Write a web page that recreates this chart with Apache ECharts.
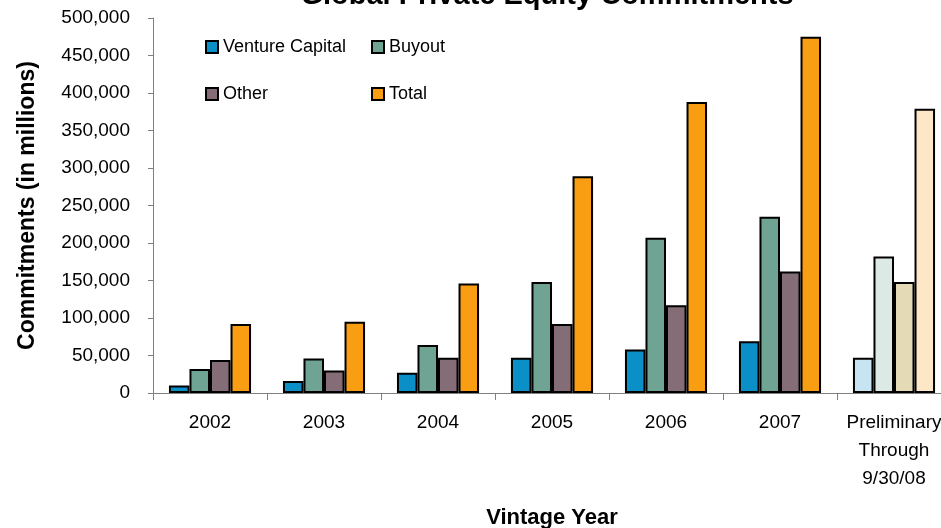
<!DOCTYPE html>
<html>
<head>
<meta charset="utf-8">
<script src="https://cdn.jsdelivr.net/npm/echarts@6/dist/echarts.min.js"></script>
<style>html,body{margin:0;padding:0;background:#fff;overflow:hidden;}#c{width:941px;height:528px;}</style>
</head>
<body>
<div id="c"></div>
<script>
const categories = ['2002', '2003', '2004', '2005', '2006', '2007', 'Preliminary\nThrough\n9/30/08'];
const ventureCapital = [10000, 16000, 27000, 47000, 58000, 69000, 47000];
const buyout = [32000, 46000, 64000, 148000, 207000, 235000, 182000];
const other = [44000, 30000, 47000, 92000, 117000, 162000, 148000];
const total = [92000, 95000, 146000, 289000, 388000, 475000, 379000];
const yTicks = [0, 50000, 100000, 150000, 200000, 250000, 300000, 350000, 400000, 450000, 500000];

const FONT = '"Liberation Sans", Arial, sans-serif';
const colors = ['#0a8fc6', '#6fa394', '#846d77', '#f99e12'];
const prelimColors = ['#c6e4f2', '#dce9e5', '#e4dab5', '#fee7c6'];

function mk(name, data, i) {
  return {
    name: name,
    type: 'bar',
    barGap: '0%',
    barCategoryGap: '28%',
    itemStyle: { color: colors[i], borderColor: '#000', borderWidth: 2 },
    data: data.map((v, k) => k === data.length - 1 ? { value: v, itemStyle: { color: prelimColors[i] } } : v)
  };
}

const chart = echarts.init(document.getElementById('c'));
chart.setOption({
  animation: false,
  backgroundColor: '#fff',
  title: {
    text: 'Global Private Equity Commitments',
    left: 542, textAlign: 'center', top: -24,
    textStyle: { fontFamily: FONT, fontWeight: 'bold', fontSize: 29, color: '#000' }
  },
  legend: [
    {
      data: ['Venture Capital', 'Other'], orient: 'vertical', left: 200, top: 33, itemGap: 29,
      itemWidth: 12, itemHeight: 12, icon: 'rect',
      textStyle: { fontFamily: FONT, fontSize: 18, color: '#000', padding: [0, 0, 0, 0] }
    },
    {
      data: ['Buyout', 'Total'], orient: 'vertical', left: 366, top: 33, itemGap: 29,
      itemWidth: 12, itemHeight: 12, icon: 'rect',
      textStyle: { fontFamily: FONT, fontSize: 18, color: '#000', padding: [0, 0, 0, 0] }
    }
  ],
  grid: { left: 153, right: -10, top: 18, bottom: 135, containLabel: false, outerBoundsMode: 'none' },
  xAxis: {
    type: 'category',
    data: categories,
    name: 'Vintage Year', nameLocation: 'middle', nameGap: 114,
    nameTextStyle: { fontFamily: FONT, fontWeight: 'bold', fontSize: 22, color: '#000' },
    axisLine: { lineStyle: { color: '#808080', width: 1 } },
    axisTick: { show: true, length: 7, lineStyle: { color: '#808080' } },
    axisLabel: { fontFamily: FONT, fontSize: 19, color: '#000', margin: 16, lineHeight: 28, interval: 0 }
  },
  yAxis: {
    type: 'value', min: 0, max: 500000, interval: 50000,
    name: 'Commitments (in millions)', nameLocation: 'middle', nameGap: 114,
    nameTextStyle: { fontFamily: FONT, fontWeight: 'bold', fontSize: 23, color: '#000' },
    splitLine: { show: false },
    axisLine: { show: true, lineStyle: { color: '#808080', width: 1 } },
    axisTick: { show: true, length: 5, lineStyle: { color: '#808080' } },
    axisLabel: {
      fontFamily: FONT, fontSize: 19, color: '#000', margin: 23,
      formatter: v => yTicks.includes(v) ? v.toLocaleString('en-US') : ''
    }
  },
  series: [
    mk('Venture Capital', ventureCapital, 0),
    mk('Buyout', buyout, 1),
    mk('Other', other, 2),
    mk('Total', total, 3)
  ]
});
</script>
</body>
</html>
